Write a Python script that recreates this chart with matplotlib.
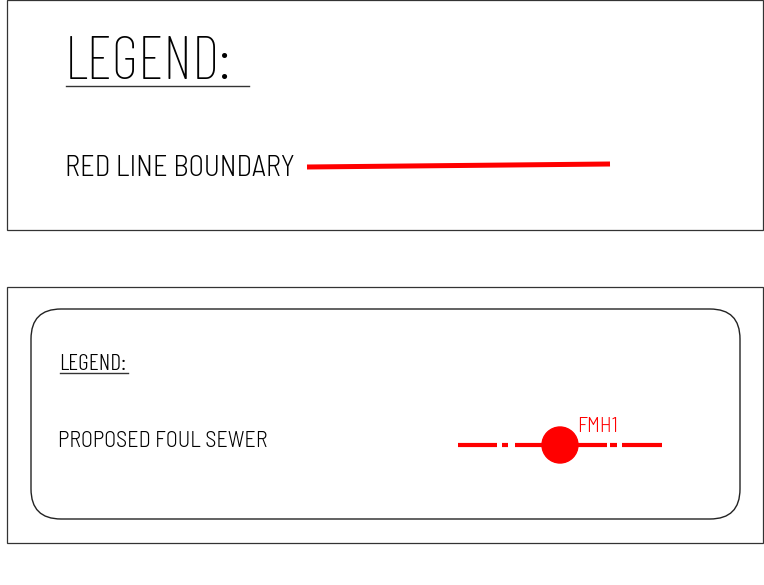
import matplotlib.pyplot as plt
import numpy as np
from matplotlib.patches import Rectangle, FancyBboxPatch, Circle

# textos da legenda
titulo = "LEGEND:"
rotulo_1 = "RED LINE BOUNDARY"
rotulo_2 = "PROPOSED FOUL SEWER"
rotulo_mh = "FMH1"

# linha limite vermelha (x, y) em pixels da figura
limite_x = [307, 610]
limite_y = [167, 164]

# segmentos do esgoto (inicio, fim)
esgoto_seg = [(458, 497), (502, 508), (515, 545), (576, 607), (610, 617), (622, 662)]
esgoto_y = 445
poco_xy = (560, 445)
poco_r = 18

fonte = ['Barlow Condensed', 'DejaVu Sans']
fonte_larga = ['Barlow Semi Condensed', 'DejaVu Sans']
vermelho = '#ff0000'

fig = plt.figure(figsize=(7.64, 5.85), dpi=100)
ax = fig.add_axes([0, 0, 1, 1])
ax.set_xlim(0, 764)
ax.set_ylim(585, 0)
ax.axis('off')

# caixas
ax.add_patch(Rectangle((7, 0), 756, 230, fill=False, edgecolor='#333333', linewidth=0.9))
ax.add_patch(Rectangle((7, 287), 756, 256, fill=False, edgecolor='#333333', linewidth=0.9))
ax.add_patch(FancyBboxPatch((31, 309), 709, 210, boxstyle='round,pad=0,rounding_size=30',
                            fill=False, edgecolor='#222222', linewidth=1.0))

# legenda de cima
ax.text(65, 79, titulo, fontsize=43, family=fonte, weight=250, color='black', va='baseline', ha='left')
ax.plot([66, 249], [86, 86], color='#333333', linewidth=1.0)
ax.text(65, 176, rotulo_1, fontsize=20.5, family=fonte_larga, weight=300, color='black', va='baseline', ha='left')
ax.plot(limite_x, limite_y, color=vermelho, linewidth=3.6, solid_capstyle='butt')

# legenda de baixo
ax.text(59, 370, titulo, fontsize=17, family=fonte, weight=300, color='black', va='baseline', ha='left')
ax.plot([60, 128], [373, 373], color='#333333', linewidth=1.0)
ax.text(58, 447, rotulo_2, fontsize=16, family=fonte_larga, weight=300, color='black', va='baseline', ha='left')

for a, b in esgoto_seg:
    ax.plot([a, b], [esgoto_y, esgoto_y], color=vermelho, linewidth=3.0, solid_capstyle='butt')
ax.add_patch(Circle(poco_xy, poco_r, color=vermelho))
ax.text(577, 432, rotulo_mh, fontsize=15, family=fonte_larga, weight=300, color=vermelho, va='baseline', ha='left')

plt.savefig('out.png', dpi=100)
